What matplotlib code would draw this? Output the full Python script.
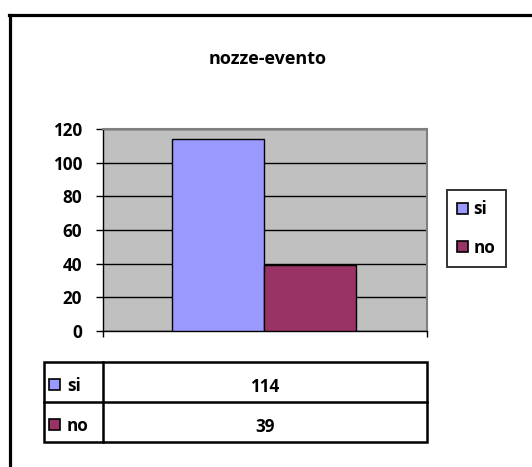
import matplotlib
matplotlib.use("Agg")
import matplotlib.pyplot as plt
from matplotlib.lines import Line2D
from matplotlib.patches import Rectangle

plt.rcParams['font.family'] = ['Open Sans', 'DejaVu Sans']
plt.rcParams['font.weight'] = 'bold'

title = "nozze-evento"
categories = ["si", "no"]
values = [114, 39]
colors = ["#9999FF", "#993366"]
yticks = [0, 20, 40, 60, 80, 100, 120]

W, H = 532, 467
fig = plt.figure(figsize=(W / 100, H / 100), dpi=100)
FS = 12.3

def fx(x):
    return x / W

def fy(y):
    return 1 - y / H

# outer frame
fig.add_artist(Line2D([fx(9.5), fx(9.5)], [fy(14.5), fy(467)], color="black", lw=2.3))
fig.add_artist(Line2D([fx(8.5), fx(532)], [fy(14.5), fy(14.5)], color="black", lw=2.3))

fig.text(fx(268), fy(59), title, ha="center", va="center", fontsize=13, fontweight="bold")

# main axes
x0, x1, y0, y1 = 103, 427, 129, 331
ax = fig.add_axes([fx(x0), fy(y1), fx(x1 - x0), (y1 - y0) / H])
ax.set_facecolor("#C0C0C0")
ax.set_xlim(0, 1)
ax.set_ylim(0, 120)
bw = (264 - 172) / (x1 - x0)
start = (172 - x0) / (x1 - x0)
for i, (c, v, col) in enumerate(zip(categories, values, colors)):
    ax.bar(start + i * bw, v, width=bw, align="edge", color=col,
           edgecolor="black", linewidth=1.0, label=c, zorder=3)
ax.set_yticks(yticks)
ax.set_yticklabels([str(t) for t in yticks], fontsize=FS, fontweight="bold")
ax.yaxis.grid(True, color="black", linewidth=1.0, zorder=0)
ax.set_axisbelow(True)
ax.set_xticks([0, 1])
ax.set_xticklabels(["", ""])
ax.tick_params(axis="y", length=5, width=1, pad=10, color="black")
ax.tick_params(axis="x", length=4, width=1, direction="out", color="black")
for s in ["top", "right"]:
    ax.spines[s].set_color("#808080")
    ax.spines[s].set_linewidth(1.5)
for s in ["left", "bottom"]:
    ax.spines[s].set_color("black")
    ax.spines[s].set_linewidth(1.0)

# legend
handles = [Rectangle((0, 0), 1, 1, facecolor=col, edgecolor="black", linewidth=1.2) for col in colors]
leg = fig.legend(handles, categories, loc="center",
                 bbox_to_anchor=(fx(447), fy(267), fx(506 - 447), (267 - 190) / H),
                 frameon=True, fancybox=False,
                 handlelength=0.6, handleheight=0.6, handletextpad=0.35,
                 labelspacing=1.2, borderaxespad=0, borderpad=0.6,
                 prop={"weight": "bold", "size": FS})
leg.get_frame().set_edgecolor("black")
leg.get_frame().set_linewidth(1.4)

# data table
tx0, tx1, ty0, ty1 = 44, 427, 362, 442
tax = fig.add_axes([fx(tx0), fy(ty1), fx(tx1 - tx0), (ty1 - ty0) / H])
tax.set_xlim(tx0, tx1)
tax.set_ylim(ty1, ty0)
tax.axis("off")
tax.add_patch(Rectangle((tx0, ty0), tx1 - tx0, ty1 - ty0, fill=False, edgecolor="black", linewidth=1.8, clip_on=False))
rowh = (ty1 - ty0) / len(categories)
tax.plot([103, 103], [ty0, ty1], color="black", lw=1.8, clip_on=False)
for i, (c, v, col) in enumerate(zip(categories, values, colors)):
    yc = ty0 + rowh * (i + 0.5)
    if i > 0:
        tax.plot([tx0, tx1], [ty0 + rowh * i, ty0 + rowh * i], color="black", lw=1.8, clip_on=False)
    tax.add_patch(Rectangle((49, yc - 3.5), 11, 11, facecolor=col, edgecolor="black", linewidth=1.2, clip_on=False))
    tax.text(67, yc + 4, c, ha="left", va="center", fontsize=FS, fontweight="bold")
    tax.text((103 + tx1) / 2, yc + 5, str(v), ha="center", va="center", fontsize=FS, fontweight="bold")

fig.savefig("out.png", dpi=100)
